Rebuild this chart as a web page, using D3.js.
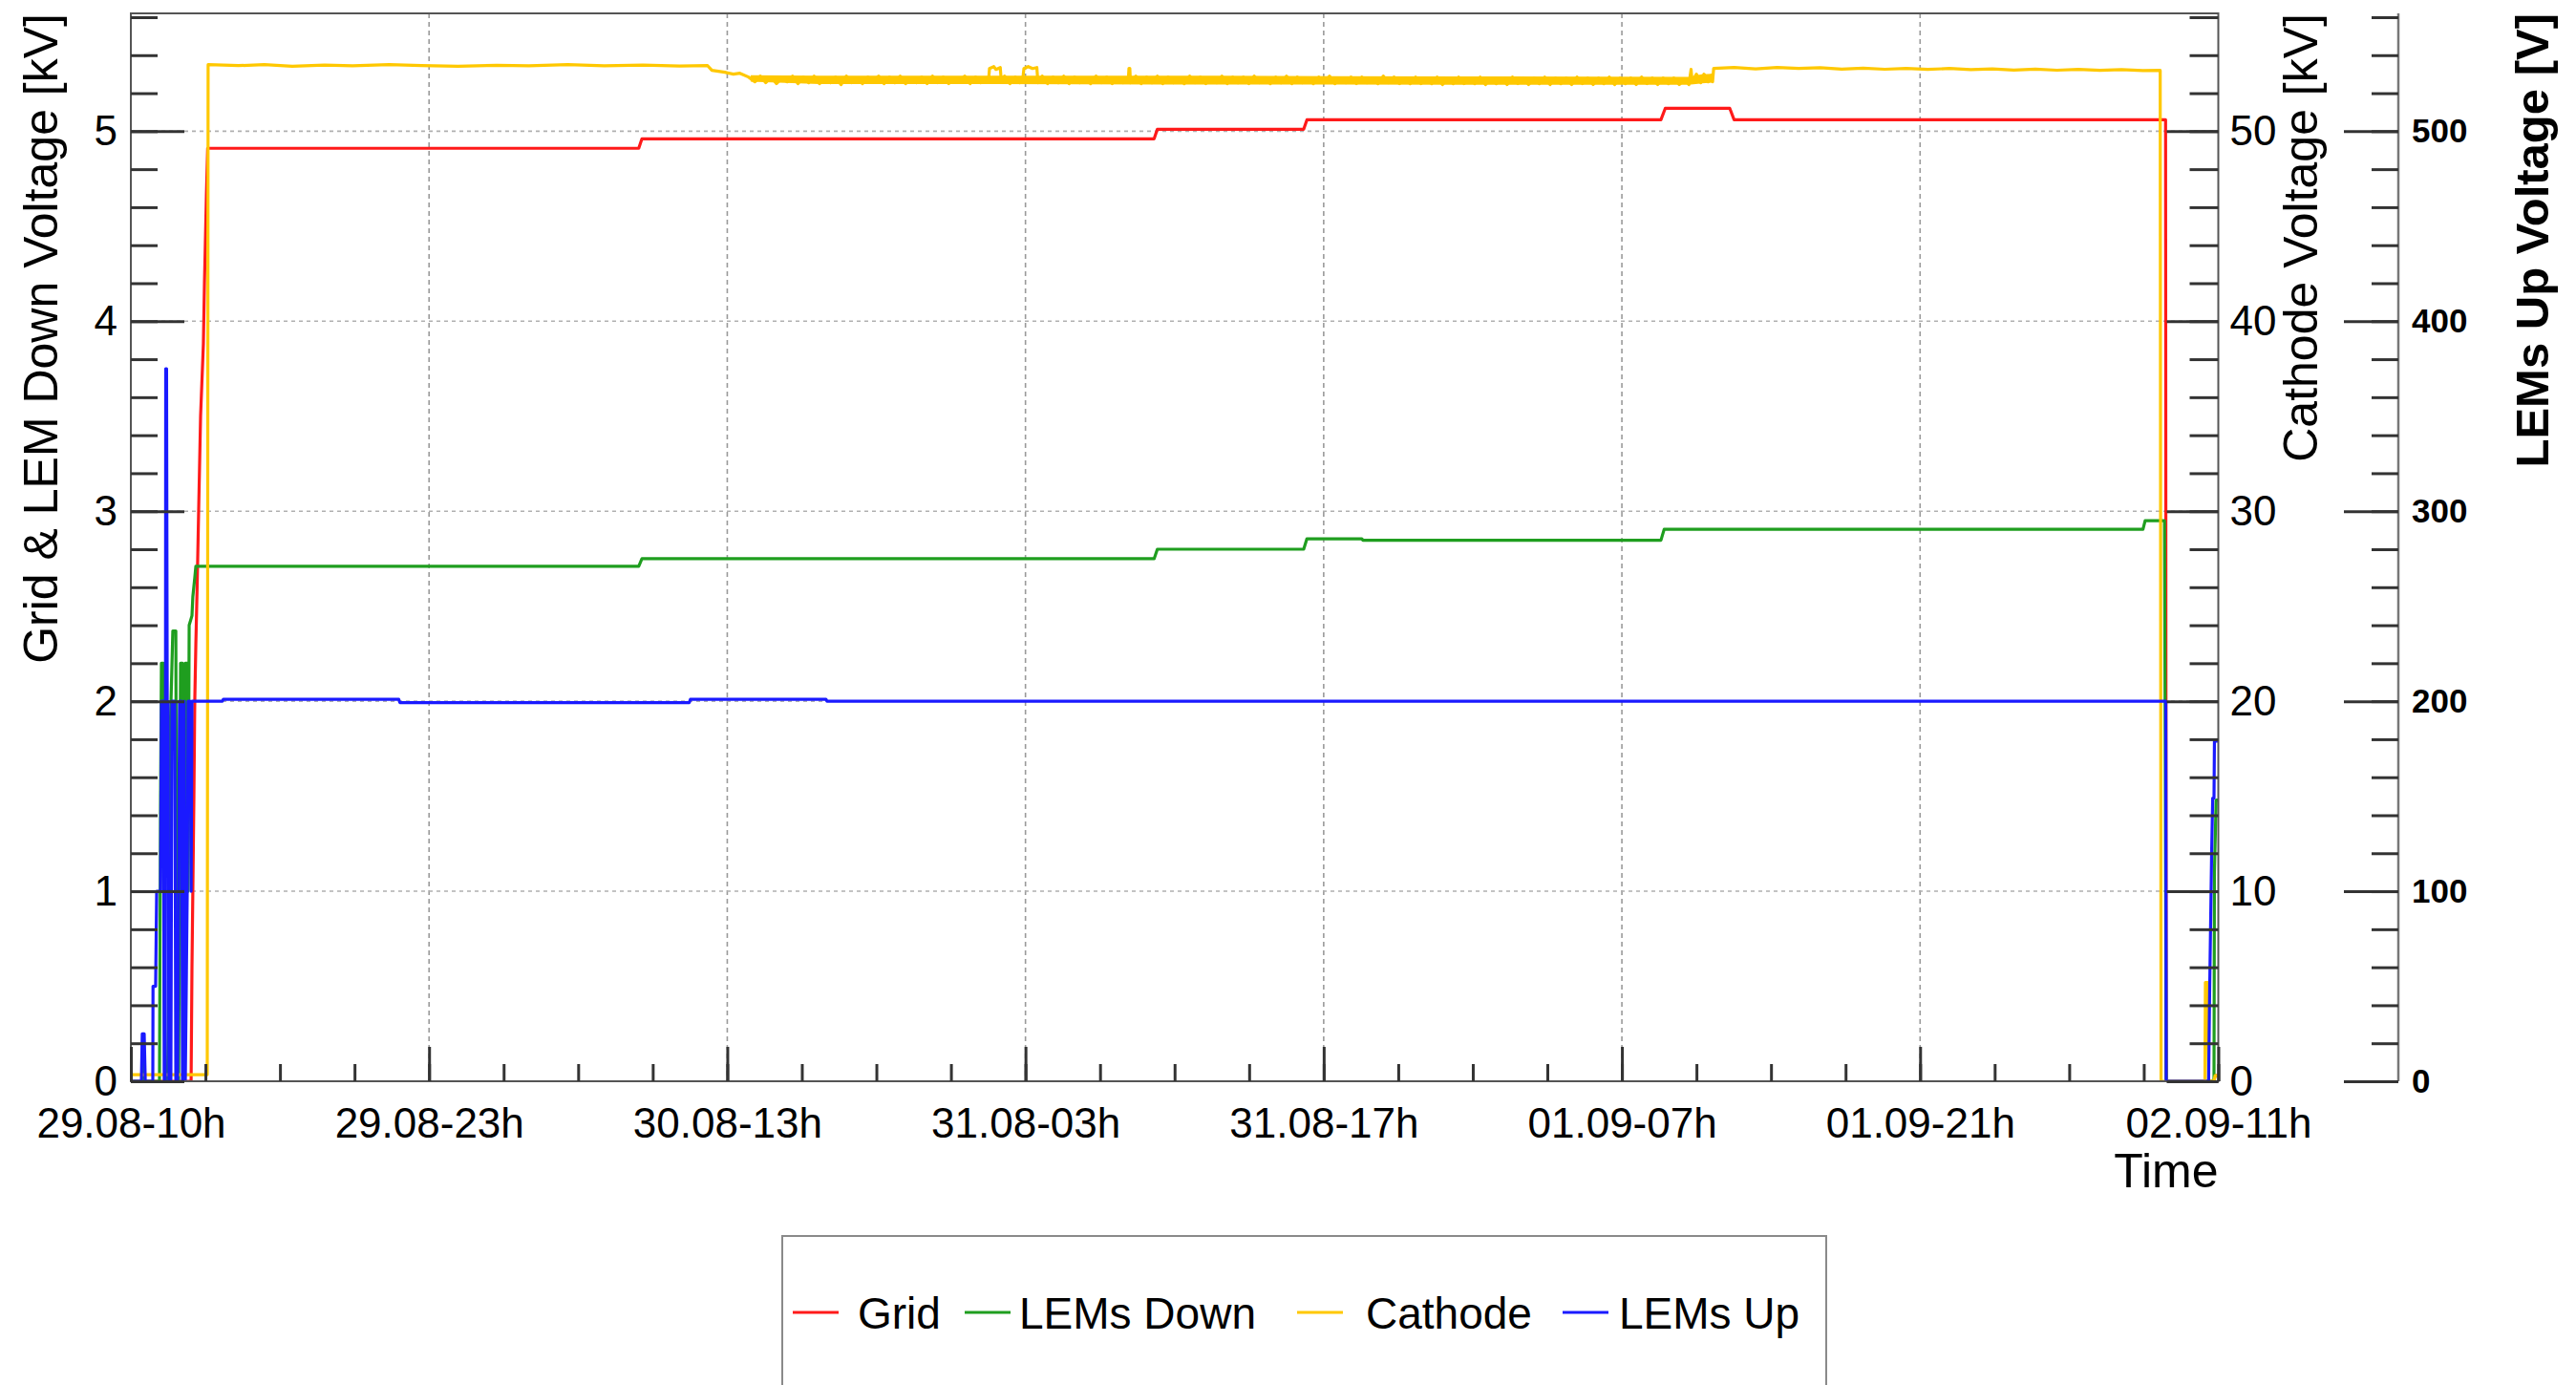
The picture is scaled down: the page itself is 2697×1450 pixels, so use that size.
<!DOCTYPE html>
<html>
<head>
<meta charset="utf-8">
<script src="https://cdn.jsdelivr.net/npm/d3@7"></script>
<style>
  html, body { margin: 0; padding: 0; background: #fff; }
  svg { display: block; font-family: "Liberation Sans", Arial, Helvetica, sans-serif; }
</style>
</head>
<body>
<svg id="chart" width="2697" height="1450"></svg>
<script>
// ---------------------------------------------------------------------------
// Slow-control record: each point is [hours after 29.08 10:00, value]
// ---------------------------------------------------------------------------
const startTime = Date.UTC(2017, 7, 29, 10, 0);
const spanHours = 97;

const timeTickLabels = ["29.08-10h", "29.08-23h", "30.08-13h", "31.08-03h",
                        "31.08-17h", "01.09-07h", "01.09-21h", "02.09-11h"];

// Grid voltage [kV]
const gridKV = [
  [0, 0], [2.80, 0], [2.84, 0.6], [2.88, 1.0], [2.93, 1.5], [2.97, 2.0], [3.02, 2.3],
  [3.08, 2.6], [3.15, 3.0], [3.24, 3.5], [3.37, 3.88], [3.42, 4.2], [3.51, 4.66],
  [3.57, 4.91], [23.6, 4.91], [23.75, 4.96], [47.55, 4.96], [47.7, 5.01], [54.5, 5.01],
  [54.65, 5.06], [71.1, 5.06], [71.3, 5.12], [74.3, 5.12], [74.5, 5.06], [94.55, 5.06],
  [94.58, 0], [96.8, 0], [96.85, 0.03], [97, 0.03]
];

// LEMs down voltage [kV]
const lemsDownKV = [
  [0, 0], [0.53, 0], [0.58, 0.15], [0.62, 0], [1.33, 0], [1.38, 1.5], [1.42, 2.2],
  [1.51, 2.2], [1.55, 0.5], [1.60, 0], [1.73, 0], [1.82, 1.8], [1.95, 2.37], [2.09, 2.37],
  [2.13, 0.8], [2.22, 0], [2.31, 2.2], [2.40, 2.2], [2.44, 1.2], [2.48, 0.3], [2.53, 2.2],
  [2.62, 2.2], [2.66, 1.0], [2.71, 2.4], [2.84, 2.45], [2.88, 2.55], [2.97, 2.65],
  [3.02, 2.71], [23.6, 2.71], [23.75, 2.75], [47.55, 2.75], [47.7, 2.80], [54.5, 2.80],
  [54.65, 2.855], [57.2, 2.855], [57.25, 2.847], [71.1, 2.847], [71.25, 2.905],
  [93.5, 2.905], [93.6, 2.95], [94.5, 2.95], [94.58, 0], [96.8, 0], [96.82, 1.1],
  [96.9, 1.48], [97, 1.48]
];

// Cathode voltage [kV]
const cathodeKV = [
  [0, 0.35], [3.55, 0.35], [3.59, 53.5], [5.0, 53.45], [6.2, 53.5], [7.5, 53.42],
  [9.0, 53.48], [10.3, 53.44], [12.0, 53.5], [13.5, 53.45], [15.2, 53.42], [17.0, 53.47],
  [18.5, 53.44], [20.3, 53.5], [22.0, 53.44], [23.8, 53.48], [25.5, 53.43], [26.8, 53.45],
  [27.0, 53.2], [27.6, 53.1], [28.0, 53.0], [28.3, 53.05], [28.7, 52.85], [29.0, 52.6],
  [29.25, 52.9], [29.5, 52.55], [29.75, 52.85], [30.0, 52.5], [30.25, 52.8], [30.5, 52.6],
  [30.75, 52.9], [31.0, 52.5], [31.25, 52.85], [31.5, 52.55], [31.75, 52.9], [32.0, 52.5],
  [32.25, 52.8], [32.5, 52.55], [32.75, 52.85], [33.0, 52.45], [33.25, 52.9], [33.5, 52.55],
  [33.75, 52.8], [34.0, 52.5], [34.25, 52.85], [34.5, 52.6], [34.75, 52.9], [35.0, 52.5],
  [35.25, 52.85], [35.5, 52.55], [35.75, 52.9], [36.0, 52.5], [36.25, 52.8], [36.5, 52.55],
  [36.75, 52.85], [37.0, 52.5], [37.25, 52.9], [37.5, 52.55], [37.75, 52.85], [38.0, 52.5],
  [38.25, 52.8], [38.5, 52.6], [38.75, 52.9], [39.0, 52.5], [39.25, 52.85], [39.5, 52.55],
  [39.75, 52.8], [39.85, 52.6], [39.9, 53.3], [40.1, 53.4], [40.2, 53.25], [40.4, 53.35],
  [40.45, 52.6], [40.6, 52.9], [40.85, 52.5], [41.1, 52.85], [41.3, 52.55], [41.45, 52.8],
  [41.5, 53.3], [41.7, 53.4], [41.9, 53.3], [42.1, 53.35], [42.15, 52.55], [42.35, 52.9],
  [42.6, 52.5], [42.85, 52.85], [43.1, 52.55], [43.35, 52.9], [43.6, 52.5], [43.85, 52.85],
  [44.1, 52.55], [44.35, 52.8], [44.6, 52.5], [44.85, 52.9], [45.1, 52.55], [45.35, 52.85],
  [45.6, 52.5], [45.85, 52.8], [46.1, 52.55], [46.35, 52.7], [46.38, 53.3], [46.42, 53.3],
  [46.45, 52.55], [46.7, 52.9], [46.95, 52.5], [47.2, 52.85], [47.45, 52.55], [47.7, 52.9],
  [47.95, 52.5], [48.2, 52.85], [48.45, 52.55], [48.7, 52.8], [48.95, 52.5], [49.2, 52.9],
  [49.45, 52.55], [49.7, 52.85], [49.95, 52.5], [50.2, 52.8], [50.45, 52.55], [50.7, 52.9],
  [50.95, 52.5], [51.2, 52.85], [51.45, 52.55], [51.7, 52.85], [51.95, 52.5], [52.2, 52.9],
  [52.45, 52.55], [52.7, 52.8], [52.95, 52.5], [53.2, 52.85], [53.45, 52.55], [53.7, 52.9],
  [53.95, 52.5], [54.2, 52.85], [54.45, 52.55], [54.7, 52.8], [54.95, 52.5], [55.2, 52.85],
  [55.45, 52.55], [55.7, 52.9], [55.95, 52.5], [56.2, 52.8], [56.45, 52.55], [56.7, 52.85],
  [56.95, 52.5], [57.2, 52.85], [57.45, 52.55], [57.7, 52.8], [57.95, 52.5], [58.2, 52.9],
  [58.45, 52.55], [58.7, 52.85], [58.95, 52.5], [59.2, 52.8], [59.45, 52.5], [59.7, 52.85],
  [59.95, 52.5], [60.2, 52.8], [60.45, 52.5], [60.7, 52.85], [60.95, 52.45], [61.2, 52.8],
  [61.45, 52.5], [61.7, 52.85], [61.95, 52.5], [62.2, 52.8], [62.45, 52.5], [62.7, 52.85],
  [62.95, 52.45], [63.2, 52.8], [63.45, 52.5], [63.7, 52.8], [63.95, 52.45], [64.2, 52.85],
  [64.45, 52.5], [64.7, 52.8], [64.95, 52.45], [65.2, 52.8], [65.45, 52.5], [65.7, 52.85],
  [65.95, 52.45], [66.2, 52.8], [66.45, 52.5], [66.7, 52.8], [66.95, 52.45], [67.2, 52.85],
  [67.45, 52.5], [67.7, 52.8], [67.95, 52.45], [68.2, 52.8], [68.45, 52.5], [68.7, 52.85],
  [68.95, 52.45], [69.2, 52.8], [69.45, 52.5], [69.7, 52.8], [69.95, 52.45], [70.2, 52.85],
  [70.45, 52.5], [70.7, 52.8], [70.95, 52.45], [71.2, 52.8], [71.45, 52.5], [71.7, 52.8],
  [71.95, 52.45], [72.2, 52.75], [72.4, 52.45], [72.5, 53.25], [72.55, 52.6], [72.75, 53.0],
  [72.95, 52.55], [73.1, 53.0], [73.3, 52.6], [73.45, 52.95], [73.5, 52.6], [73.55, 53.3],
  [74.5, 53.35], [75.5, 53.28], [76.5, 53.35], [77.5, 53.3], [78.5, 53.34], [79.5, 53.27],
  [80.5, 53.32], [81.5, 53.26], [82.5, 53.3], [83.5, 53.25], [84.5, 53.3], [85.5, 53.24],
  [86.5, 53.28], [87.5, 53.22], [88.5, 53.27], [89.5, 53.21], [90.5, 53.25], [91.5, 53.2],
  [92.5, 53.24], [93.5, 53.19], [94.3, 53.2], [94.34, 0], [96.38, 0], [96.4, 5.2],
  [96.5, 5.2], [96.55, 0], [96.8, 0], [96.85, 0.3], [97, 0.3]
];

// Spread of the densely sampled cathode readings: [hours, low kV, high kV]
const cathodeSpreadKV = [
  [28.8, 52.6, 52.95], [32.0, 52.48, 52.92], [40.0, 52.48, 52.92], [48.0, 52.46, 52.92],
  [56.0, 52.46, 52.9], [64.0, 52.44, 52.88], [72.4, 52.44, 52.86], [73.0, 52.52, 53.0],
  [73.5, 52.56, 53.02]
];

// LEMs up voltage [V]
const lemsUpV = [
  [0, 0], [0.49, 0], [0.53, 25], [0.62, 25], [0.67, 0], [1.02, 0], [1.03, 50], [1.15, 50],
  [1.20, 100], [1.38, 100], [1.42, 200], [1.51, 200], [1.55, 0], [1.60, 0], [1.62, 375],
  [1.66, 375], [1.69, 200], [1.73, 200], [1.77, 0], [1.86, 0], [1.91, 200], [2.04, 200],
  [2.09, 0], [2.17, 0], [2.22, 100], [2.26, 200], [2.35, 200], [2.40, 0], [2.44, 100],
  [2.48, 200], [2.53, 0], [2.62, 100], [2.66, 200], [2.75, 200], [2.80, 100], [2.84, 200],
  [4.25, 200], [4.3, 201], [12.45, 201], [12.5, 199.3], [25.95, 199.3], [26.0, 201],
  [32.3, 201], [32.35, 200], [94.56, 200], [94.58, 0], [96.55, 0], [96.6, 49],
  [96.69, 120], [96.74, 149], [96.8, 149], [96.82, 179], [97, 179]
];

const legendLabels = ["Grid", "LEMs Down", "Cathode", "LEMs Up"];
const seriesColors = ["#ff1a1a", "#1f9e1f", "#ffc800", "#1a1aff"];

// ---------------------------------------------------------------------------
const svg = d3.select("#chart");
const frame = { left: 137, right: 2322.5, top: 14, bottom: 1132 };
const thirdAxisX = 2511;
const toDate = h => new Date(startTime + h * 3600e3);

const x = d3.scaleUtc()
  .domain([toDate(0), toDate(spanHours)])
  .range([frame.left, frame.right]);
const yKV = d3.scaleLinear().domain([0, 5.62]).range([frame.bottom, frame.top]);
const yCathode = d3.scaleLinear().domain([0, 56.2]).range([frame.bottom, frame.top]);
const yUp = d3.scaleLinear().domain([0, 562]).range([frame.bottom, frame.top]);

const majorTimes = d3.range(timeTickLabels.length)
  .map(i => toDate(i * spanHours / (timeTickLabels.length - 1)));
const minorTimes = d3.range((timeTickLabels.length - 1) * 4 + 1)
  .map(i => toDate(i * spanHours / ((timeTickLabels.length - 1) * 4)));

const tickColor = "#333";
const labelFont = "'Liberation Sans', Arial, sans-serif";

// ---- grid lines ----
const gridG = svg.append("g").attr("class", "grid");
gridG.selectAll("line.gx")
  .data(majorTimes.slice(1, -1))
  .join("line")
  .attr("x1", d => x(d)).attr("x2", d => x(d))
  .attr("y1", frame.top).attr("y2", frame.bottom)
  .attr("stroke", "#9a9a9a").attr("stroke-width", 1.6).attr("stroke-dasharray", "5,4");
gridG.selectAll("line.gy")
  .data(d3.range(1, 6))
  .join("line")
  .attr("x1", frame.left).attr("x2", frame.right)
  .attr("y1", d => yKV(d)).attr("y2", d => yKV(d))
  .attr("stroke", "#b0b0b0").attr("stroke-width", 1.6).attr("stroke-dasharray", "4,4");

// ---- series ----
svg.append("defs").append("clipPath").attr("id", "plotClip")
  .append("rect")
  .attr("x", frame.left).attr("y", frame.top - 2)
  .attr("width", frame.right - frame.left + 2).attr("height", frame.bottom - frame.top + 2);

const series = [
  { data: gridKV, y: yKV },
  { data: lemsDownKV, y: yKV },
  { data: cathodeKV, y: yCathode },
  { data: lemsUpV, y: yUp }
];
const plotG = svg.append("g").attr("clip-path", "url(#plotClip)");
series.forEach((s, i) => {
  if (s.data === cathodeKV) {
    // dense readings blur into a band
    plotG.append("path")
      .datum(cathodeSpreadKV)
      .attr("d", d3.area()
        .x(d => x(toDate(d[0])))
        .y0(d => yCathode(d[1]))
        .y1(d => yCathode(d[2])))
      .attr("fill", seriesColors[i]);
  }
  const line = d3.line().x(d => x(toDate(d[0]))).y(d => s.y(d[1]));
  plotG.append("path")
    .datum(s.data)
    .attr("d", line)
    .attr("fill", "none")
    .attr("stroke", seriesColors[i])
    .attr("stroke-width", 3.2)
    .attr("stroke-linejoin", "round");
});

// ---- frame ----
svg.append("rect")
  .attr("x", frame.left).attr("y", frame.top)
  .attr("width", frame.right - frame.left).attr("height", frame.bottom - frame.top)
  .attr("fill", "none").attr("stroke", "#555").attr("stroke-width", 2);

function styleTicks(g) {
  g.select(".domain").remove();
  g.selectAll(".tick line").attr("stroke", tickColor).attr("stroke-width", 3);
}
function styleLabels(size, weight) {
  return g => {
    g.select(".domain").remove();
    g.selectAll("text").attr("font-size", size).attr("font-weight", weight)
      .attr("fill", "#000").attr("font-family", labelFont);
  };
}

// ---- left axis (Grid & LEM Down) ----
svg.append("g").attr("transform", `translate(${frame.left},0)`)
  .call(d3.axisRight(yKV).tickValues(d3.range(0, 5.61, 0.2)).tickSize(28).tickFormat(""))
  .call(styleTicks);
svg.append("g").attr("transform", `translate(${frame.left},0)`)
  .call(d3.axisRight(yKV).tickValues(d3.range(0, 6)).tickSize(56).tickFormat(""))
  .call(styleTicks);
svg.append("g").attr("transform", `translate(${frame.left},0)`)
  .call(d3.axisLeft(yKV).tickValues(d3.range(0, 6)).tickSize(0).tickPadding(14).tickFormat(d3.format("d")))
  .call(styleLabels(44, "normal"));

// ---- right axis (Cathode) ----
svg.append("g").attr("transform", `translate(${frame.right},0)`)
  .call(d3.axisLeft(yCathode).tickValues(d3.range(0, 56.1, 2)).tickSize(30).tickFormat(""))
  .call(styleTicks);
svg.append("g").attr("transform", `translate(${frame.right},0)`)
  .call(d3.axisLeft(yCathode).tickValues(d3.range(0, 51, 10)).tickSize(54).tickFormat(""))
  .call(styleTicks);
svg.append("g").attr("transform", `translate(${frame.right},0)`)
  .call(d3.axisRight(yCathode).tickValues(d3.range(0, 51, 10)).tickSize(0).tickPadding(12).tickFormat(d3.format("d")))
  .call(styleLabels(44, "normal"));

// ---- third axis (LEMs Up) ----
svg.append("line")
  .attr("x1", thirdAxisX).attr("x2", thirdAxisX)
  .attr("y1", frame.top).attr("y2", frame.bottom)
  .attr("stroke", "#777").attr("stroke-width", 2.5);
svg.append("g").attr("transform", `translate(${thirdAxisX},0)`)
  .call(d3.axisLeft(yUp).tickValues(d3.range(0, 561, 20)).tickSize(28).tickFormat(""))
  .call(styleTicks);
svg.append("g").attr("transform", `translate(${thirdAxisX},0)`)
  .call(d3.axisLeft(yUp).tickValues(d3.range(0, 501, 100)).tickSize(57).tickFormat(""))
  .call(styleTicks);
svg.append("g").attr("transform", `translate(${thirdAxisX},0)`)
  .call(d3.axisRight(yUp).tickValues(d3.range(0, 501, 100)).tickSize(0).tickPadding(14).tickFormat(d3.format("d")))
  .call(styleLabels(35, "bold"));

// ---- time axis ----
svg.append("g").attr("transform", `translate(0,${frame.bottom})`)
  .call(d3.axisTop(x).tickValues(minorTimes).tickSize(18).tickFormat(""))
  .call(styleTicks);
svg.append("g").attr("transform", `translate(0,${frame.bottom})`)
  .call(d3.axisTop(x).tickValues(majorTimes).tickSize(36).tickFormat(""))
  .call(styleTicks);
svg.append("g").attr("transform", `translate(0,${frame.bottom})`)
  .call(d3.axisBottom(x).tickValues(majorTimes).tickSize(0).tickPadding(28)
    .tickFormat((d, i) => timeTickLabels[i]))
  .call(styleLabels(44, "normal"));

// ---- axis titles ----
svg.append("text")
  .attr("transform", `translate(60,${frame.top}) rotate(-90)`)
  .attr("text-anchor", "end").attr("font-size", 50).attr("fill", "#000")
  .text("Grid & LEM Down Voltage [kV]");
svg.append("text")
  .attr("transform", `translate(2426,${frame.top}) rotate(-90)`)
  .attr("text-anchor", "end").attr("font-size", 50).attr("fill", "#000")
  .text("Cathode Voltage [kV]");
svg.append("text")
  .attr("transform", `translate(2668,${frame.top}) rotate(-90)`)
  .attr("text-anchor", "end").attr("font-size", 49).attr("font-weight", "bold").attr("fill", "#000")
  .text("LEMs Up Voltage [V]");
svg.append("text")
  .attr("x", frame.right).attr("y", 1243)
  .attr("text-anchor", "end").attr("font-size", 50).attr("fill", "#000")
  .text("Time");

// ---- legend ----
const legend = svg.append("g");
legend.append("rect")
  .attr("x", 819).attr("y", 1294).attr("width", 1093).attr("height", 220)
  .attr("fill", "#fff").attr("stroke", "#8a8a8a").attr("stroke-width", 2);
const legendLineX = [830, 1010, 1358, 1636];
const legendTextX = [898, 1067, 1430, 1695];
legendLabels.forEach((name, i) => {
  legend.append("line")
    .attr("x1", legendLineX[i]).attr("x2", legendLineX[i] + 48)
    .attr("y1", 1374).attr("y2", 1374)
    .attr("stroke", seriesColors[i]).attr("stroke-width", 3.2);
  legend.append("text")
    .attr("x", legendTextX[i]).attr("y", 1391)
    .attr("font-size", 46).attr("fill", "#000")
    .text(name);
});
</script>
</body>
</html>
